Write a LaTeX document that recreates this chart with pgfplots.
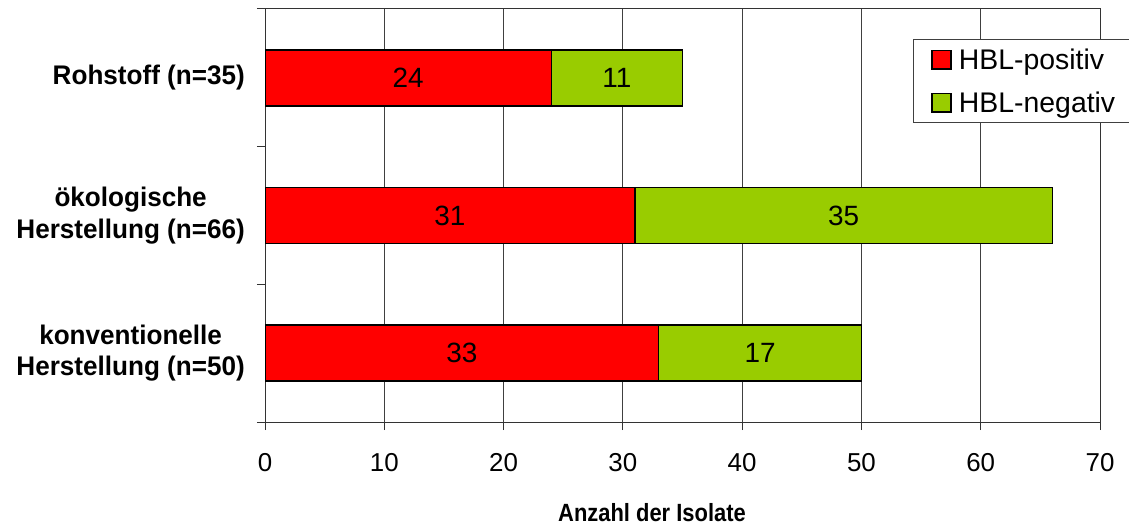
\documentclass[border=0pt]{standalone}
\usepackage{fontspec}
\setmainfont{Liberation Sans}
\newfontfamily\catfont[FakeStretch=0.97]{Liberation Sans}
\newfontfamily\titlefont[FakeStretch=0.88]{Liberation Sans}
\usepackage{pgfplots}
\pgfplotsset{compat=1.18}
\definecolor{hblpos}{HTML}{FF0000}
\definecolor{hblneg}{HTML}{99CC00}
\begin{document}
\begin{tikzpicture}
\useasboundingbox (0,0) rectangle (1129bp,530bp);
\begin{axis}[
  at={(265bp,108bp)}, anchor=south west,
  scale only axis, width=835bp, height=413bp,
  xbar stacked, bar width=0.407,
  xmin=0, xmax=70, ymin=-0.5, ymax=2.5,
  xtick={0,10,...,70},
  xmajorgrids, grid style={black!75, line width=0.8bp},
  axis line style={black!80, line width=1bp},
  tick align=outside, major tick length=8bp,
  tick style={black!80, line width=1bp},
  xtick pos=bottom, ytick pos=left,
  ytick={-0.5,0.5,1.5,2.5}, yticklabels={},
  extra y ticks={0,1,2},
  extra y tick labels={{konventionelle\\Herstellung (n=50)},{ökologische\\Herstellung (n=66)},{Rohstoff (n=35)}},
  extra y tick style={major tick length=0pt,
    yticklabel style={align=center, inner sep=0pt, xshift=-20bp,
      font=\catfont\bfseries\fontsize{27}{31.5}\selectfont}},
  /pgf/number format/assume math mode=true,
  xticklabel style={font=\fontsize{26}{30}\selectfont, anchor=base, yshift=-41bp},
  xlabel={Anzahl der Isolate},
  xlabel style={font=\titlefont\bfseries\fontsize{25}{28}\selectfont,
    at={(axis description cs:0.4635,-0.2421)}, anchor=base},
  point meta=explicit symbolic,
  nodes near coords={\pgfplotspointmeta},
  every node near coord/.append style={anchor=center, text=black,
    font=\fontsize{28}{32}\selectfont},
  legend style={at={(axis description cs:0.776,0.9274)}, anchor=north west,
    draw=black!75, line width=1bp, font=\fontsize{28.5}{32}\selectfont,
    row sep=17bp, inner xsep=18bp, inner ysep=7bp,
    nodes={text width=190bp},
    /tikz/every odd column/.append style={column sep=5bp}},
  legend cell align=left,
  legend image code/.code={
    \draw[#1, line width=1.5bp] (0bp,-9.5bp) rectangle (19bp,9.2bp);},
]
% HBL-positive isolates
\addplot[fill=hblpos, draw=black, line width=1.5bp]
  coordinates {(33,0) [33] (31,1) [31] (24,2) [24]};
% HBL-negative isolates
\addplot[fill=hblneg, draw=black, line width=1.5bp]
  coordinates {(17,0) [17] (35,1) [35] (11,2) [11]};
\legend{HBL-positiv, HBL-negativ}
\end{axis}
\end{tikzpicture}
\end{document}
